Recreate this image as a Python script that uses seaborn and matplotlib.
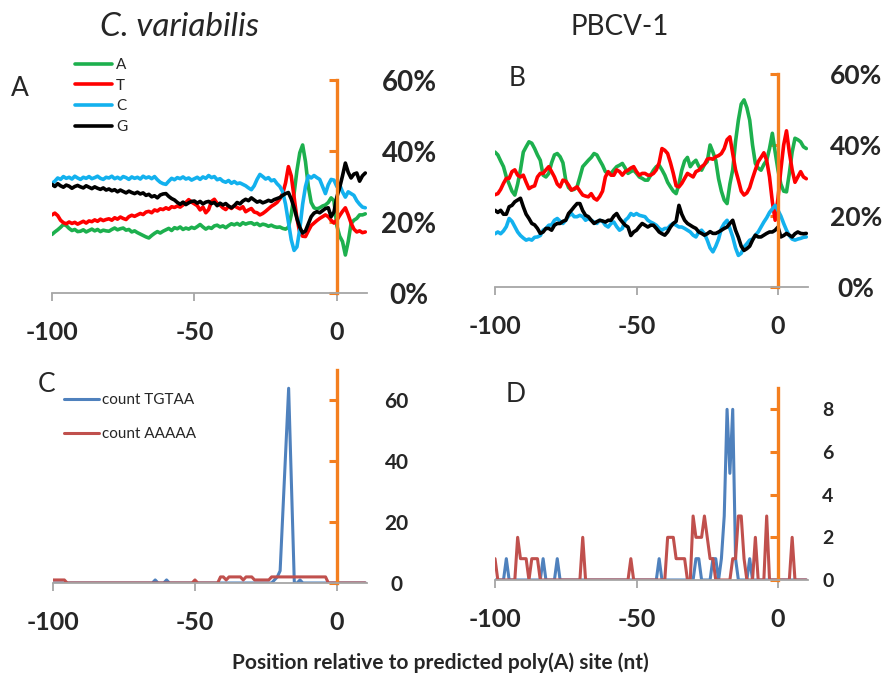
import numpy as np
import pandas as pd
import seaborn as sns
import matplotlib
matplotlib.use("Agg")
import matplotlib.pyplot as plt
from matplotlib.ticker import FuncFormatter

sns.set_style("white")
plt.rcParams['font.family'] = ['Lato', 'DejaVu Sans']
plt.rcParams['font.weight'] = 'bold'
plt.rcParams['axes.unicode_minus'] = False

pos = list(range(-100, 11))

# base composition (%) around the poly(A) site, C. variabilis
cv_A = [16.5, 17.2, 17.8, 18.5, 19.3, 19.0, 18.2, 17.6, 17.9, 17.3,
        17.4, 17.8, 17.2, 17.6, 18.0, 17.5, 17.9, 17.3, 17.7, 17.5,
        17.4, 17.9, 18.3, 17.8, 18.1, 18.3, 17.7, 17.9, 17.2, 17.5,
        17.0, 16.6, 16.2, 15.8, 15.5, 16.2, 16.8, 17.3, 16.9, 17.4,
        17.8, 18.2, 17.6, 18.4, 18.1, 18.6, 17.9, 18.3, 18.0, 18.5,
        18.2, 18.7, 19.3, 18.6, 18.0, 18.5, 18.2, 18.9, 19.1, 18.6,
        18.9, 18.4, 19.0, 19.5, 19.2, 19.6, 19.1, 19.8, 19.4, 19.7,
        19.8, 19.3, 19.6, 19.0, 19.4, 19.2, 18.8, 19.1, 18.7, 18.5,
        18.6, 18.2, 18.0, 18.5, 22.0, 28.0, 34.5, 39.5, 41.7, 37.0,
        30.0, 25.5, 24.0, 23.7, 24.0, 24.5, 24.8, 25.5, 26.8, 26.0,
        19.0, 16.0, 14.5, 10.7, 14.5, 19.5, 20.5, 21.0, 22.0, 22.0, 22.3]
cv_T = [22.0, 22.5, 21.8, 20.5, 19.8, 19.5, 20.0, 19.6, 19.9, 19.4,
        19.8, 20.2, 19.7, 20.3, 20.1, 20.6, 20.2, 20.8, 20.4, 20.7,
        20.9, 20.5, 21.2, 20.8, 21.4, 21.0, 20.7, 21.5, 21.9, 21.6,
        22.0, 22.4, 22.1, 22.8, 23.0, 22.6, 23.4, 23.1, 23.7, 23.5,
        24.0, 23.6, 24.3, 24.1, 24.5, 24.2, 24.8, 25.5, 26.3, 25.6,
        25.1, 24.6, 23.4, 24.2, 22.6, 23.5, 25.8, 26.4, 25.2, 24.8,
        24.0, 23.5, 24.4, 23.8, 24.6, 24.1, 23.7, 24.3, 22.9, 23.4,
        23.8, 22.8, 22.6, 22.0, 22.4, 23.0, 23.7, 24.4, 24.9, 25.5,
        26.5, 28.0, 31.0, 35.6, 33.0, 27.0, 21.0, 17.0, 16.0, 15.9,
        17.5, 19.0, 19.7, 20.4, 21.0, 21.5, 22.0, 21.5, 20.5, 19.7,
        20.5, 21.8, 23.0, 24.0, 22.0, 19.7, 18.0, 17.2, 17.5, 17.0, 17.2]
cv_C = [30.9, 31.5, 32.4, 32.0, 32.8, 32.3, 32.6, 32.1, 32.9, 32.4,
        32.0, 32.6, 32.3, 32.8, 32.2, 32.5, 32.9, 32.3, 32.0, 32.6,
        32.4, 32.9, 32.2, 32.6, 32.1, 32.8, 32.5, 32.0, 32.7, 32.3,
        32.6, 32.1, 32.9, 32.4, 32.7, 32.2, 32.8, 31.9, 31.2, 30.8,
        30.6, 31.5, 32.3, 31.9, 32.5, 32.2, 32.7, 32.1, 32.4, 31.8,
        32.2, 32.6, 32.0, 32.7, 32.3, 33.1, 32.5, 32.8, 31.9, 32.2,
        31.5, 31.2, 31.7, 30.9, 31.4, 30.8, 31.0, 30.6, 30.2, 29.6,
        29.1, 30.2, 32.0, 33.4, 32.8, 32.1, 32.5, 31.6, 31.9, 30.8,
        30.0, 28.5, 25.0, 20.0, 15.0, 12.0, 13.0, 18.0, 25.0, 30.0,
        33.0, 32.4, 33.1, 32.5, 32.0, 30.0, 28.0, 30.5, 32.0, 31.8,
        30.0, 30.5, 28.5, 27.0, 28.5, 28.0, 27.5, 26.0, 25.0, 24.2, 24.0]
cv_G = [30.6, 30.0, 30.8, 30.2, 29.8, 30.4, 30.1, 29.5, 30.0, 30.3,
        29.9, 29.6, 30.2, 29.8, 29.4, 29.9, 29.5, 29.2, 29.6, 29.0,
        29.3, 28.8, 29.1, 28.5, 29.0, 28.6, 28.2, 28.7, 28.3, 28.0,
        28.4, 27.9, 28.2, 27.5, 27.8, 27.1, 27.4, 26.8, 27.6, 27.9,
        28.0, 27.2, 26.6, 26.2, 25.5, 25.0, 25.6, 24.9, 25.4, 25.8,
        25.9, 25.3, 25.8, 25.1, 25.6, 25.8, 25.2, 25.5, 24.6, 25.3,
        24.8, 25.2, 24.5, 24.0, 24.6, 25.5, 25.1, 25.9, 26.4, 26.0,
        26.8, 26.2, 25.6, 25.9, 25.4, 25.7, 26.1, 25.8, 26.3, 26.6,
        26.9, 27.5, 28.0, 28.3, 26.5, 24.0, 21.0, 18.5, 16.9, 17.5,
        19.5, 21.5, 22.5, 22.9, 22.6, 23.2, 23.8, 24.0, 21.5, 22.8,
        27.0, 29.7, 33.0, 36.6, 34.0, 32.4, 33.5, 33.8, 31.5, 33.0, 33.8]

# base composition (%), PBCV-1
pb_A = [38.0, 37.2, 35.5, 33.9, 31.0, 29.0, 27.0, 25.9, 29.0, 33.0,
        38.0, 39.5, 40.9, 40.5, 39.0, 37.2, 35.7, 31.5, 31.0, 32.0,
        35.0, 37.2, 37.6, 36.7, 35.0, 30.1, 28.0, 27.3, 27.5, 28.2,
        31.0, 33.9, 34.8, 35.7, 36.5, 37.6, 37.2, 35.7, 34.3, 32.5,
        32.0, 32.0, 33.0, 33.9, 34.3, 34.8, 33.5, 32.0, 32.5, 32.9,
        32.0, 31.0, 30.6, 30.1, 30.1, 31.5, 32.9, 33.9, 34.3, 33.0,
        31.5, 29.5, 28.2, 27.0, 26.3, 29.0, 32.9, 35.5, 36.5, 33.9,
        35.0, 35.7, 34.0, 32.9, 34.5, 35.3, 40.0, 38.0, 35.7, 30.5,
        27.0, 24.5, 23.5, 29.0, 33.0, 41.0, 47.0, 51.5, 52.7, 50.5,
        47.0, 40.0, 34.8, 33.5, 32.9, 34.5, 35.7, 39.0, 43.3, 38.0,
        32.9, 29.0, 27.0, 26.8, 32.0, 38.0, 41.9, 41.5, 40.9, 39.5, 39.0]
pb_T = [26.0, 26.3, 27.5, 29.2, 30.6, 30.6, 32.5, 33.0, 31.5, 31.0,
        31.5, 29.5, 27.7, 28.2, 28.5, 31.0, 32.0, 32.0, 33.0, 33.9,
        32.5, 31.0, 29.0, 28.2, 30.1, 29.8, 28.7, 27.3, 27.7, 28.2,
        27.0, 25.9, 25.6, 25.4, 26.3, 25.0, 24.5, 25.5, 27.0, 31.0,
        32.5, 31.5, 31.5, 33.0, 32.5, 31.5, 32.5, 32.9, 33.5, 33.9,
        32.5, 31.5, 32.0, 32.0, 31.5, 31.5, 32.0, 33.0, 35.0, 39.0,
        38.5, 37.6, 35.0, 32.0, 28.5, 28.2, 29.2, 30.6, 32.0, 31.5,
        31.0, 32.5, 32.9, 33.9, 34.5, 36.0, 36.2, 36.0, 36.7, 37.0,
        37.6, 39.0, 41.5, 42.3, 37.6, 33.0, 30.1, 27.0, 25.9, 26.5,
        28.0, 30.6, 33.0, 35.3, 36.5, 37.8, 35.7, 31.0, 24.0, 18.8,
        25.0, 33.0, 40.0, 44.0, 38.0, 33.0, 29.5, 31.0, 32.5, 31.0, 30.5]
pb_C = [15.0, 15.5, 15.0, 15.8, 17.0, 19.3, 18.5, 17.0, 15.5, 14.5,
        13.8, 13.2, 13.5, 13.2, 14.0, 14.1, 14.5, 16.0, 16.5, 17.4,
        17.5, 18.8, 19.3, 18.5, 17.9, 18.8, 20.0, 20.7, 19.8, 19.8,
        20.2, 19.8, 18.8, 19.3, 18.8, 18.3, 17.9, 18.8, 18.5, 17.4,
        16.9, 17.9, 18.3, 17.0, 16.0, 16.5, 18.8, 19.5, 20.7, 20.2,
        20.7, 20.2, 20.0, 19.8, 18.8, 18.3, 17.9, 17.4, 16.5, 16.0,
        16.5, 16.5, 17.4, 17.9, 17.4, 16.9, 16.9, 16.5, 16.0, 15.5,
        14.6, 14.1, 15.5, 16.0, 15.0, 13.2, 11.0, 9.9, 11.5, 13.5,
        16.5, 17.9, 18.8, 16.5, 14.1, 11.0, 8.9, 9.5, 11.3, 12.2,
        13.2, 13.5, 14.6, 15.5, 16.9, 18.3, 19.5, 21.0, 22.0, 23.0,
        21.6, 20.0, 17.9, 16.0, 14.5, 13.5, 13.2, 13.5, 13.7, 14.0, 14.1]
pb_G = [21.6, 21.0, 21.6, 20.5, 20.5, 22.6, 23.0, 24.0, 24.5, 25.0,
        22.6, 20.5, 19.3, 17.9, 17.5, 16.5, 15.1, 15.5, 16.5, 16.5,
        16.0, 17.4, 17.9, 17.9, 18.5, 18.8, 20.7, 21.6, 22.6, 23.5,
        23.5, 21.5, 20.2, 19.8, 18.8, 17.9, 18.4, 18.8, 18.6, 18.3,
        18.8, 18.8, 20.0, 20.7, 19.3, 18.3, 17.4, 16.9, 14.5, 15.5,
        16.0, 17.0, 17.9, 17.4, 16.9, 17.4, 17.4, 16.5, 15.5, 15.0,
        14.6, 15.5, 16.9, 17.9, 18.5, 23.0, 20.5, 18.8, 17.9, 17.4,
        16.9, 16.5, 15.5, 15.1, 14.6, 15.0, 15.6, 15.1, 15.1, 15.5,
        16.0, 16.5, 16.9, 17.9, 18.8, 16.0, 14.0, 11.5, 10.3, 10.8,
        11.5, 13.2, 14.6, 14.1, 14.1, 14.6, 15.1, 15.5, 15.5, 16.0,
        16.9, 14.1, 14.5, 15.1, 14.6, 14.1, 15.0, 15.5, 15.1, 15.0, 15.1]

# motif counts
cv_tgtaa = [0, 0, 0, 0, 0, 0, 0, 0, 0, 0,
            0, 0, 0, 0, 0, 0, 0, 0, 0, 0,
            0, 0, 0, 0, 0, 0, 0, 0, 0, 0,
            0, 0, 0, 0, 0, 0, 1, 0, 0, 0,
            1, 0, 0, 0, 0, 0, 0, 0, 0, 0,
            0, 0, 0, 0, 0, 0, 0, 0, 0, 0,
            0, 0, 0, 0, 0, 0, 0, 0, 0, 0,
            0, 0, 0, 0, 0, 0, 0, 0, 1, 2,
            4, 24, 44, 64, 32, 0, 0, 1, 0, 0,
            0, 0, 0, 0, 0, 0, 0, 0, 0, 0,
            0, 0, 0, 0, 0, 0, 0, 0, 0, 0, 0]
cv_aaaaa = [1, 1, 1, 1, 1, 0, 0, 0, 0, 0,
            0, 0, 0, 0, 0, 0, 0, 0, 0, 0,
            0, 0, 0, 0, 0, 0, 0, 0, 0, 0,
            0, 0, 0, 0, 0, 0, 0, 0, 0, 0,
            0, 0, 0, 0, 0, 0, 0, 0, 0, 0,
            1, 0, 0, 0, 0, 0, 0, 0, 0, 2,
            2, 1, 2, 2, 2, 2, 2, 1, 2, 2,
            2, 1, 1, 1, 1, 1, 1, 2, 2, 2,
            2, 2, 2, 2, 2, 2, 2, 2, 2, 2,
            2, 2, 2, 2, 2, 2, 2, 0, 0, 0,
            0, 0, 0, 0, 0, 0, 0, 0, 0, 0, 0]
pb_tgtaa = [0, 0, 0, 0, 1, 0, 0, 0, 0, 0,
            0, 0, 0, 0, 0, 0, 0, 1, 0, 0,
            0, 0, 1, 0, 0, 0, 0, 0, 0, 0,
            0, 0, 0, 0, 0, 0, 0, 0, 0, 0,
            0, 0, 0, 0, 0, 0, 0, 0, 0, 0,
            0, 0, 0, 0, 0, 0, 0, 0, 1, 0,
            0, 0, 0, 0, 0, 0, 0, 0, 0, 0,
            0, 1, 1, 0, 0, 0, 0, 1, 1, 0,
            1, 3, 8, 5, 8, 1, 0, 0, 0, 0,
            1, 0, 0, 0, 0, 0, 0, 0, 0, 0,
            0, 0, 0, 0, 0, 0, 0, 0, 0, 0, 0]
pb_aaaaa = [1, 0, 0, 0, 0, 0, 0, 0, 2, 1,
            1, 1, 0, 1, 1, 1, 0, 0, 0, 0,
            0, 0, 0, 0, 0, 0, 0, 0, 0, 0,
            0, 2, 0, 0, 0, 0, 0, 0, 0, 0,
            0, 0, 0, 0, 0, 0, 0, 0, 1, 0,
            0, 0, 0, 0, 0, 0, 0, 0, 0, 0,
            0, 2, 2, 2, 1, 1, 1, 1, 0, 0,
            3, 2, 2, 2, 3, 2, 1, 1, 0, 0,
            0, 0, 0, 0, 1, 1, 3, 3, 1, 0,
            0, 0, 2, 0, 0, 0, 3, 0, 0, 0,
            0, 0, 0, 0, 0, 2, 0, 0, 0, 0, 0]

base_colors = {'A': '#1DB04E', 'T': '#FF0000', 'C': '#13B1EE', 'G': '#000000'}
orange = '#F47F1F'
grey = '#A6A6A6'

fig = plt.figure(figsize=(8.82, 6.82), dpi=100)
axA = fig.add_axes([52/882, 1-293/682, 315/882, 213/682])
axB = fig.add_axes([495/882, 1-287/682, 313/882, 213/682])
axC = fig.add_axes([53/882, 1-583/682, 314/882, 213/682])
axD = fig.add_axes([495/882, 1-580/682, 313/882, 192/682])


def style(ax, ymax, yticks, fmt, ypad, ysize):
    ax.set_xlim(-100, 10.6)
    ax.set_ylim(0, ymax)
    ax.spines['top'].set_visible(False)
    ax.spines['left'].set_visible(False)
    ax.spines['bottom'].set_color(grey)
    ax.spines['bottom'].set_linewidth(1.3)
    ax.spines['right'].set_position(('data', 0))
    ax.spines['right'].set_color(orange)
    ax.spines['right'].set_linewidth(2.4)
    ax.yaxis.tick_right()
    ax.set_yticks(yticks)
    ax.yaxis.set_major_formatter(fmt)
    ax.tick_params(axis='y', direction='in', length=6, width=2.2, color=orange,
                   pad=ypad, labelsize=ysize)
    ax.set_xticks([-100, -50, 0])
    ax.tick_params(axis='x', direction='out', length=6, width=1.3, color=grey,
                   pad=14, labelsize=18, bottom=True)
    plt.setp(ax.get_yticklabels(), ha='center')
    ax.set_xlabel('')
    ax.set_ylabel('')


pct = FuncFormatter(lambda v, p: f"{v:.0f}%")
cnt = FuncFormatter(lambda v, p: f"{v:.0f}")

for name, vals in zip(['A', 'T', 'C', 'G'], [cv_A, cv_T, cv_C, cv_G]):
    sns.lineplot(x=pos, y=vals, ax=axA, color=base_colors[name], linewidth=2.6, label=name)
for name, vals in zip(['A', 'T', 'C', 'G'], [pb_A, pb_T, pb_C, pb_G]):
    sns.lineplot(x=pos, y=vals, ax=axB, color=base_colors[name], linewidth=2.6, legend=False)

sns.lineplot(x=pos, y=cv_tgtaa, ax=axC, color='#4F81BD', linewidth=2.2, label='count TGTAA')
sns.lineplot(x=pos, y=cv_aaaaa, ax=axC, color='#C0504D', linewidth=2.2, label='count AAAAA')
sns.lineplot(x=pos, y=pb_tgtaa, ax=axD, color='#4F81BD', linewidth=2.2, legend=False)
sns.lineplot(x=pos, y=pb_aaaaa, ax=axD, color='#C0504D', linewidth=2.2, legend=False)

style(axA, 60, [0, 20, 40, 60], pct, 52, 20)
style(axB, 60, [0, 20, 40, 60], pct, 56, 19)
style(axC, 70, [0, 20, 40, 60], cnt, 43, 15)
style(axD, 9, [0, 2, 4, 6, 8], cnt, 36, 14)

axA.legend(loc='upper left', bbox_to_anchor=(75/882, 1-58/682), bbox_transform=fig.transFigure,
           frameon=False, borderpad=0, borderaxespad=0, handlelength=2.4, handletextpad=0.3,
           labelspacing=0.44, prop={'size': 11, 'weight': 'normal'})
axC.legend(loc='upper left', bbox_to_anchor=(64/882, 1-393/682), bbox_transform=fig.transFigure,
           frameon=False, borderpad=0, borderaxespad=0, handlelength=2.3, handletextpad=0.2,
           labelspacing=1.3, prop={'size': 11, 'weight': 'normal'})

fig.text(180/882, 1-27/682, 'C. variabilis', ha='center', va='center', fontsize=24,
         style='italic', fontweight='normal')
fig.text(620/882, 1-27/682, 'PBCV-1', ha='center', va='center', fontsize=20, fontweight='normal')
for letter, (px, py) in zip('ABCD', [(20, 88), (517, 78), (47, 384), (516, 395)]):
    fig.text(px/882, 1-py/682, letter, ha='center', va='center', fontsize=19, fontweight='normal')
fig.text(440/882, 1-663/682, 'Position relative to predicted poly(A) site (nt)', ha='center',
         va='center', fontsize=15, fontweight='bold')

fig.savefig('out.png', dpi=100)
